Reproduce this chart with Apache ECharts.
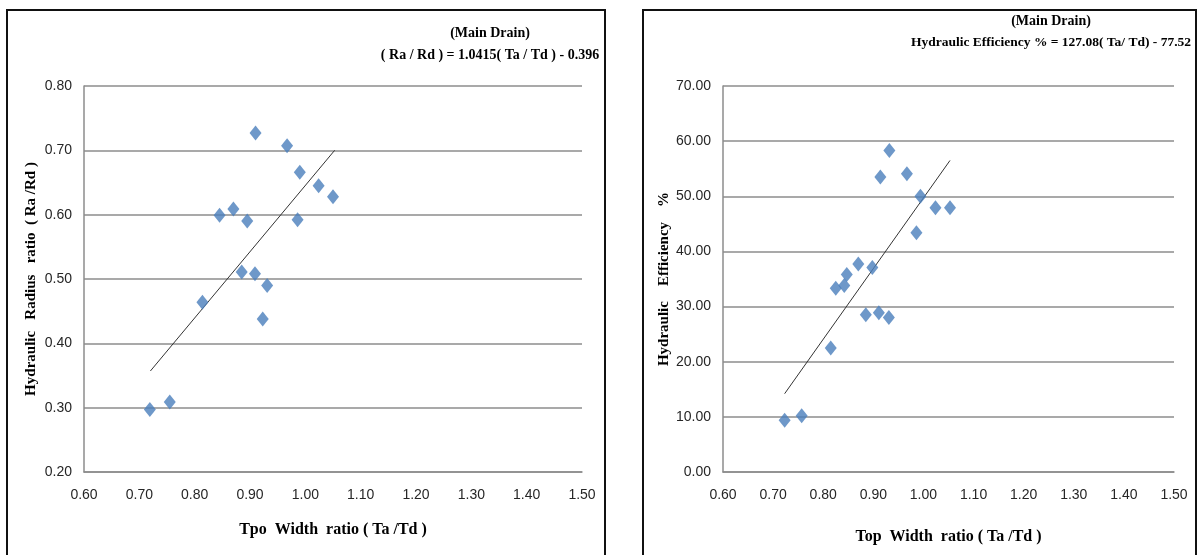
<!DOCTYPE html>
<html>
<head>
<meta charset="utf-8">
<script src="https://cdn.jsdelivr.net/npm/echarts@6/dist/echarts.min.js"></script>
<style>
  html, body { margin: 0; padding: 0; background: #fff; }
  #main { width: 1200px; height: 555px; }
</style>
</head>
<body>
<div id="main"></div>
<script>
// left chart: hydraulic radius ratio vs top width ratio
const raX = [0.719, 0.755, 0.814, 0.845, 0.870, 0.895, 0.885, 0.910, 0.909, 0.931, 0.923, 0.967, 0.990, 0.986, 1.024, 1.050];
const raY = [0.297, 0.309, 0.464, 0.599, 0.609, 0.590, 0.511, 0.727, 0.508, 0.490, 0.438, 0.707, 0.666, 0.592, 0.645, 0.628];
const raTrendX = [0.720, 1.053];
const raTrendY = [0.357, 0.700];

// right chart: hydraulic efficiency % vs top width ratio
const heX = [0.723, 0.757, 0.815, 0.825, 0.842, 0.847, 0.870, 0.898, 0.885, 0.911, 0.931, 0.914, 0.932, 0.967, 0.986, 0.994, 1.024, 1.053];
const heY = [9.4, 10.2, 22.5, 33.3, 33.8, 35.8, 37.7, 37.1, 28.5, 28.9, 28.0, 53.5, 58.3, 54.1, 43.4, 50.0, 47.9, 47.9];
const heTrendX = [0.723, 1.053];
const heTrendY = [14.2, 56.5];

const titleLeft = ['(Main Drain)', '( Ra / Rd ) = 1.0415( Ta / Td ) - 0.396'];
const titleRight = ['(Main Drain)', 'Hydraulic Efficiency % = 127.08( Ta/ Td) - 77.52'];

const pairs = (xs, ys) => xs.map((x, i) => [x, ys[i]]);

const serif = 'Liberation Serif';
const gridColor = '#8c8c8c';

let labelStyle = {
  color: '#262626',
  fontFamily: 'Liberation Sans',
  fontSize: 14,
  formatter: v => v.toFixed(2)
};

let xAxisBase = (idx, name, gap) => ({
  gridIndex: idx,
  type: 'value',
  min: 0.6, max: 1.5, interval: 0.1,
  name: name,
  nameLocation: 'middle',
  nameGap: gap,
  nameTextStyle: { fontFamily: serif, fontWeight: 'bold', fontSize: 16, color: '#000' },
  axisLine: { show: true, lineStyle: { color: gridColor, width: 1.5 } },
  axisTick: { show: false },
  splitLine: { show: false },
  axisLabel: Object.assign({ margin: 16 }, labelStyle)
});

let yAxisBase = (idx, name, min, max, interval, gap) => ({
  gridIndex: idx,
  type: 'value',
  min: min, max: max, interval: interval,
  name: name,
  nameLocation: 'middle',
  nameGap: gap,
  nameTextStyle: { fontFamily: serif, fontWeight: 'bold', fontSize: 15, color: '#000' },
  axisLine: { show: true, lineStyle: { color: gridColor, width: 1.5 } },
  axisTick: { show: false },
  splitLine: { show: true, lineStyle: { color: gridColor, width: 1.5 } },
  axisLabel: Object.assign({ margin: 12 }, labelStyle)
});

let scatter = (idx, data) => ({
  type: 'scatter',
  xAxisIndex: idx, yAxisIndex: idx,
  symbol: 'diamond',
  symbolSize: [12, 15],
  itemStyle: { color: '#4A7EBB' },
  data: data,
  z: 3
});

let trend = (idx, data) => ({
  type: 'line',
  xAxisIndex: idx, yAxisIndex: idx,
  showSymbol: false,
  lineStyle: { color: '#333', width: 1 },
  data: data,
  z: 2
});

let titleText = (x, y, text, size) => ({
  type: 'text', x: x, y: y,
  style: { text: text, fill: '#000', font: 'bold ' + size + 'px "Liberation Serif"', textAlign: 'center', textVerticalAlign: 'middle' }
});

let myChart = echarts.init(document.getElementById('main'));
myChart.setOption({
  animation: false,
  grid: [
    { left: 84, top: 86, width: 498, height: 386 },
    { left: 723, top: 86, width: 451, height: 386 }
  ],
  xAxis: [
    xAxisBase(0, 'Tpo  Width  ratio ( Ta /Td )', 50),
    xAxisBase(1, 'Top  Width  ratio ( Ta /Td )', 57)
  ],
  yAxis: [
    yAxisBase(0, 'Hydraulic   Radius   ratio  ( Ra /Rd )', 0.2, 0.8, 0.1, 45),
    yAxisBase(1, 'Hydraulic    Efficiency    %', 0, 70, 10, 50)
  ],
  series: [
    scatter(0, pairs(raX, raY)),
    trend(0, pairs(raTrendX, raTrendY)),
    scatter(1, pairs(heX, heY)),
    trend(1, pairs(heTrendX, heTrendY))
  ],
  graphic: [
    // panel frames
    { type: 'rect', shape: { x: 7, y: 10, width: 598, height: 560 }, style: { fill: 'none', stroke: '#111', lineWidth: 2 } },
    { type: 'rect', shape: { x: 643, y: 10, width: 553, height: 560 }, style: { fill: 'none', stroke: '#111', lineWidth: 2 } },
    titleText(490, 33, titleLeft[0], 14),
    titleText(490, 55, titleLeft[1], 14),
    titleText(1051, 21, titleRight[0], 14),
    titleText(1051, 43, titleRight[1], 13.5)
  ]
});
</script>
</body>
</html>
